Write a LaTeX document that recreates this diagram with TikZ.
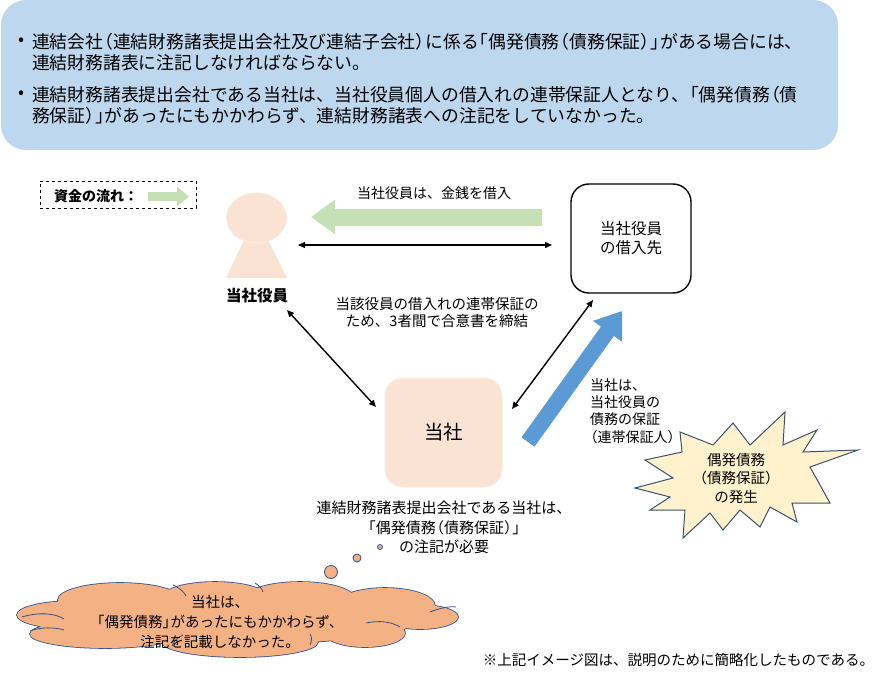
\documentclass[tikz,border=0pt]{standalone}
\usepackage{fontspec}
\setmainfont{Noto Sans CJK JP}
\usetikzlibrary{arrows.meta}
\definecolor{topblue}{HTML}{BDD7EE}
\definecolor{peach}{HTML}{FBE3D3}
\definecolor{peachedge}{HTML}{FCEBDF}
\definecolor{flowgreen}{HTML}{C5E0B4}
\definecolor{guarblue}{HTML}{5B9BD5}
\definecolor{burstfill}{HTML}{FFF2CC}
\definecolor{burstedge}{HTML}{3B5170}
\definecolor{cloudfill}{HTML}{F4B183}
\definecolor{cloudedge}{HTML}{2F528F}
\newcommand{\LP}{\kern-.45em（}
\newcommand{\RP}{）\kern-.45em}
\newcommand{\LB}{\kern-.45em「}
\newcommand{\RB}{」\kern-.45em}
\newcommand{\cloudpath}{%
  (75,615) ellipse [x radius=58, y radius=14]
  (120,600) ellipse [x radius=62, y radius=17]
  (215,597) ellipse [x radius=52, y radius=15]
  (300,598) ellipse [x radius=54, y radius=16]
  (385,606) ellipse [x radius=50, y radius=18]
  (420,617) ellipse [x radius=38, y radius=12]
  (365,633) ellipse [x radius=40, y radius=14]
  (240,642) ellipse [x radius=78, y radius=15]
  (105,634) ellipse [x radius=75, y radius=14]
  (237,620) ellipse [x radius=180, y radius=24]}
\tikzset{
  txt/.style={inner sep=0pt, outer sep=0pt},
  bigline/.style={txt, anchor=west, font=\fontsize{17.8}{21}\selectfont},
  midtxt/.style={txt, align=center, font=\fontsize{14.5}{17}\selectfont},
  dbl/.style={line width=1.4pt, {Triangle[length=7pt,width=6pt]}-{Triangle[length=7pt,width=6pt]}},
  greenflow/.style={draw=flowgreen, line width=17pt, -{Triangle[length=24pt,width=33pt]}, color=flowgreen},
  bluflow/.style={draw=guarblue, line width=16pt, -{Triangle[length=25pt,width=34pt]}, color=guarblue},
  bubble/.style={draw=cloudedge, line width=0.8pt, fill=cloudfill},
  cloudarc/.style={draw=cloudedge, line width=0.8pt},
}
\begin{document}
\begin{tikzpicture}[x=1pt,y=-1pt]
\useasboundingbox (0,0) rectangle (890,679);
% top explanation box
\fill[topblue, rounded corners=25pt] (1,0) rectangle (838,150);
\node[txt, font=\fontsize{17.8}{21}\selectfont] (b1) at (22,42) {•};
\node[bigline] (l1) at (32,42) {連結会社\LP 連結財務諸表提出会社及び連結子会社\RP に係る\LB 偶発債務\LP 債務保証\RP\RB がある場合には、};
\node[bigline] (l2) at (32,63) {連結財務諸表に注記しなければならない。};
\node[txt, font=\fontsize{17.8}{21}\selectfont] (b2) at (22,95) {•};
\node[bigline] (l3) at (32,95) {連結財務諸表提出会社である当社は、当社役員個人の借入れの連帯保証人となり、\LB 偶発債務\LP 債};
\node[bigline] (l4) at (32,116) {務保証\RP\RB があったにもかかわらず、連結財務諸表への注記をしていなかった。};
% legend
\node[draw, dashed, line width=1pt, minimum width=156pt, minimum height=27pt, inner sep=0pt] (legend) at (118,194.5) {};
\node[txt, anchor=west, font=\bfseries\fontsize{14}{16}\selectfont] (legendtxt) at (54,196) {資金の流れ：};
\coordinate (lgA) at (148,196.5);
\coordinate (lgB) at (189,196.5);
\draw[draw=flowgreen, line width=9pt, -{Triangle[length=12pt,width=19pt]}, color=flowgreen] (lgA) -- (lgB);
% person (company officer)
\fill[peach] (245,238) -- (267,238) -- (287,278) -- (226,278) -- cycle;
\fill[peach, draw=peachedge, line width=1pt] (256.5,218) ellipse [x radius=30pt, y radius=25pt];
\node[txt, font=\bfseries\fontsize{15.5}{18}\selectfont] (officer) at (257,296) {当社役員};
% money flow
\node[txt, font=\fontsize{14}{16}\selectfont] (loantxt) at (434,193) {当社役員は、金銭を借入};
\coordinate (gfA) at (542,217);
\coordinate (gfB) at (311,217);
\draw[greenflow] (gfA) -- (gfB);
% lender
\node[draw, line width=1.4pt, rounded corners=18pt, minimum width=120pt, minimum height=109pt, align=center, font=\fontsize{15.5}{19}\selectfont] (lender) at (631,238.5) {当社役員\\の借入先};
% company
\node[fill=peach, draw=peachedge, line width=1pt, rounded corners=18pt, minimum width=117pt, minimum height=109pt, font=\fontsize{19.5}{22}\selectfont] (company) at (443.5,432.5) {当社};
% connectors
\coordinate (o1) at (298,245);
\coordinate (o2) at (552,245);
\draw[dbl] (o1) -- (o2);
\coordinate (o3) at (287,310);
\coordinate (o4) at (376,407);
\draw[dbl] (o3) -- (o4);
\coordinate (o5) at (512,409);
\coordinate (o6) at (593,300);
\draw[dbl] (o5) -- (o6);
\node[midtxt] (agree) at (437,312.5) {当該役員の借入れの連帯保証の\\ため、3者間で合意書を締結};
% guarantee arrow
\coordinate (bfA) at (528,442);
\coordinate (bfB) at (622,311);
\draw[bluflow] (bfA) -- (bfB);
\node[txt, anchor=west, align=left, font=\fontsize{14}{17.4}\selectfont] (guartxt) at (590,411) {当社は、\\当社役員の\\債務の保証\\\hspace*{-.45em}（連帯保証人）};
% starburst
\filldraw[fill=burstfill, draw=burstedge, line width=1pt, line join=miter]
 (785,412) -- (783,445) -- (817,430) -- (803,452) -- (858,450) -- (810,467) -- (830,503) -- (792,503) -- (797,522) -- (770,507) -- (760,527) -- (740,510) -- (723,530) -- (710,513) -- (683,538) -- (685,510) -- (650,510) -- (670,497) -- (635,488) -- (673,478) -- (645,460) -- (682,452) -- (680,432) -- (713,445) -- (733,423) -- (750,445) -- cycle;
\node[txt, align=center, font=\fontsize{14.5}{18.5}\selectfont] (burst) at (736,478.5) {偶発債務\\（債務保証）\\の発生};
% note under company
\node[txt, align=center, font=\fontsize{15}{19.5}\selectfont] (need) at (444,527.5) {連結財務諸表提出会社である当社は、\\\LB 偶発債務\LP 債務保証\RP\RB\\の注記が必要};
% thought bubbles and cloud
\draw[bubble] (380,547) circle (2.5pt);
\draw[bubble] (357,558) circle (4pt);
\draw[bubble] (331,572) circle (6.5pt);
\draw[draw=cloudedge, line width=1.6pt] \cloudpath;
\fill[cloudfill] \cloudpath;
\draw[cloudarc] (22,617) .. controls (38,612) and (55,613) .. (64,619);
\draw[cloudarc] (30,631) .. controls (40,627) and (55,627) .. (64,630);
\draw[cloudarc] (173,585) .. controls (180,588) and (184,592) .. (186,596);
\draw[cloudarc] (255,583) .. controls (260,586) and (262,589) .. (263,592);
\draw[cloudarc] (430,612) .. controls (440,608) and (450,606) .. (456,607);
\draw[cloudarc] (366,623) .. controls (380,620) and (392,622) .. (400,627);
\draw[cloudarc] (172,646) .. controls (174,641) and (178,637) .. (183,635);
\draw[cloudarc] (310,645) .. controls (312,641) and (312,637) .. (310,634);
\node[txt, align=center, font=\fontsize{14.5}{20}\selectfont] (cloudtxt) at (220,622) {当社は、\\\LB 偶発債務\RB があったにもかかわらず、\\注記を記載しなかった。};
% footnote
\node[txt, anchor=east, font=\fontsize{14.5}{17}\selectfont] (foot) at (874,660) {※上記イメージ図は、説明のために簡略化したものである。};
\end{tikzpicture}
\end{document}
